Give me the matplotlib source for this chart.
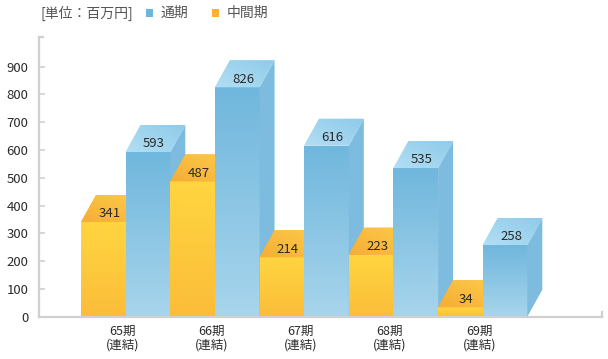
import numpy as np
import matplotlib
matplotlib.use("Agg")
import matplotlib.pyplot as plt
from matplotlib.patches import Polygon, Rectangle
from matplotlib.colors import LinearSegmentedColormap
from matplotlib.lines import Line2D

plt.rcParams['font.family'] = ['Noto Sans CJK JP', 'DejaVu Sans']

categories = ['65期\n(連結)', '66期\n(連結)', '67期\n(連結)', '68期\n(連結)', '69期\n(連結)']
full_year = [593, 826, 616, 535, 258]
interim = [341, 487, 214, 223, 34]
yticks = [0, 100, 200, 300, 400, 500, 600, 700, 800, 900]
unit_label = '[単位：百万円]'
series_names = ['通期', '中間期']

W, H = 608, 359
fig = plt.figure(figsize=(W / 100, H / 100), dpi=100)

ax_l, ax_r, ax_b, ax_t = 39.3, 602.0, 316.7, 37.3
ax = fig.add_axes([ax_l / W, (H - ax_b) / H, (ax_r - ax_l) / W, (ax_b - ax_t) / H])

px_per_unit_y = 0.2778
px_per_group = 89.25
ymax = (ax_b - ax_t) / px_per_unit_y
x_left = (ax_l - 125.7) / px_per_group
x_right = (ax_r - 125.7) / px_per_group

dx = 15 / px_per_group
dy = 27 / px_per_unit_y
bw = 0.5

x = np.arange(len(categories))

blue_top, blue_bot = '#70b7dd', '#a8d5ec'
blue_side = '#7dbcde'
blue_cap_a, blue_cap_b = '#b3def3', '#8ecbea'
yel_top, yel_bot = '#ffd540', '#fbbd39'
yel_cap_a, yel_cap_b = '#f6ad37', '#fdcb48'


def grad_fill(patch, c_top, c_bot, z):
    bb = patch.get_bbox()
    cmap = LinearSegmentedColormap.from_list('g', [c_bot, c_top])
    arr = np.linspace(0, 1, 128).reshape(-1, 1)
    im = ax.imshow(arr, cmap=cmap, extent=(bb.x0, bb.x1, bb.y0, bb.y1),
                   origin='lower', aspect='auto', zorder=z, interpolation='bilinear')
    im.set_clip_path(patch)


def diag_fill(poly, c_a, c_b, z):
    verts = np.asarray(poly.get_xy())
    x0, x1 = verts[:, 0].min(), verts[:, 0].max()
    y0, y1 = verts[:, 1].min(), verts[:, 1].max()
    cmap = LinearSegmentedColormap.from_list('d', [c_a, c_b])
    gx, gy = np.meshgrid(np.linspace(0, 1, 64), np.linspace(0, 1, 64))
    arr = (gx + gy) / 2
    im = ax.imshow(arr, cmap=cmap, extent=(x0, x1, y0, y1), origin='lower',
                   aspect='auto', zorder=z, interpolation='bilinear', vmin=0, vmax=1)
    im.set_clip_path(poly)


yb = ax.bar(x - bw / 2, interim, width=bw, color=yel_top, linewidth=0, zorder=1)
bb_ = ax.bar(x + bw / 2, full_year, width=bw, color=blue_top, linewidth=0, zorder=1)

for i in range(len(categories)):
    base = 10 * i + 2
    p = yb[i]
    p.set_zorder(base)
    grad_fill(p, yel_top, yel_bot, base + 0.1)
    x0, x1, v = p.get_x(), p.get_x() + p.get_width(), p.get_height()
    cap = Polygon([(x0, v), (x1, v), (x1 + dx, v + dy), (x0 + dx, v + dy)],
                  closed=True, facecolor=yel_cap_a, edgecolor='none', zorder=base + 0.2)
    ax.add_patch(cap)
    diag_fill(cap, yel_cap_a, yel_cap_b, base + 0.21)
    ax.text((x0 + x1) / 2 + dx * 0.4, v + dy * 0.3, str(interim[i]), ha='center', va='center',
            fontsize=9.5, color='#2a2a2a', zorder=base + 0.3)

    p = bb_[i]
    b2 = base + 1
    p.set_zorder(b2)
    grad_fill(p, blue_top, blue_bot, b2 + 0.1)
    x0, x1, v = p.get_x(), p.get_x() + p.get_width(), p.get_height()
    ax.add_patch(Polygon([(x1, 0), (x1 + dx, dy), (x1 + dx, v + dy), (x1, v)],
                         closed=True, facecolor=blue_side, edgecolor='none', zorder=b2 + 0.15))
    cap = Polygon([(x0, v), (x1, v), (x1 + dx, v + dy), (x0 + dx, v + dy)],
                  closed=True, facecolor=blue_cap_a, edgecolor='none', zorder=b2 + 0.2)
    ax.add_patch(cap)
    diag_fill(cap, blue_cap_a, blue_cap_b, b2 + 0.21)
    ax.text((x0 + x1) / 2 + dx * 0.4, v + dy * 0.3, str(full_year[i]), ha='center', va='center',
            fontsize=9.5, color='#2a2a2a', zorder=b2 + 0.3)

ax.set_xlim(x_left, x_right)
ax.set_ylim(0, ymax)

for s in ['top', 'right']:
    ax.spines[s].set_visible(False)
for s in ['left', 'bottom']:
    ax.spines[s].set_color('#d0d0d0')
    ax.spines[s].set_linewidth(1.6)
    ax.spines[s].set_zorder(100)

ax.set_yticks(yticks)
ax.set_yticklabels([str(t) for t in yticks])
ax.tick_params(axis='y', direction='in', length=4, width=1.2, color='#d0d0d0',
               labelsize=9.5, labelcolor='#2a2a2a', pad=8)
ax.set_xticks(x - 0.04)
ax.set_xticklabels(categories)
ax.tick_params(axis='x', length=0, labelsize=9, labelcolor='#2a2a2a', pad=6)
for lab in ax.get_xticklabels():
    lab.set_linespacing(1.05)

ax.add_line(Line2D([x_left, x_left + 4 / px_per_group], [ymax, ymax], color='#d0d0d0',
                   lw=1.6, clip_on=False, zorder=100))
ax.add_line(Line2D([x_right, x_right], [0, 5 / px_per_unit_y], color='#d0d0d0',
                   lw=1.6, clip_on=False, zorder=100))

fig.text(40 / W, 1 - 13 / H, unit_label, ha='left', va='center', fontsize=10, color='#555555')
fig.patches.append(Rectangle((145.5 / W, 1 - 16.5 / H), 7.5 / W, 7.5 / H, transform=fig.transFigure,
                             facecolor='#6cb6dc', edgecolor='none'))
fig.text(161 / W, 1 - 13 / H, series_names[0], ha='left', va='center', fontsize=10, color='#555555')
fig.patches.append(Rectangle((211.5 / W, 1 - 16.5 / H), 7.5 / W, 7.5 / H, transform=fig.transFigure,
                             facecolor='#f9b233', edgecolor='none'))
fig.text(227 / W, 1 - 13 / H, series_names[1], ha='left', va='center', fontsize=10, color='#555555')

fig.savefig('out.png', dpi=100)
